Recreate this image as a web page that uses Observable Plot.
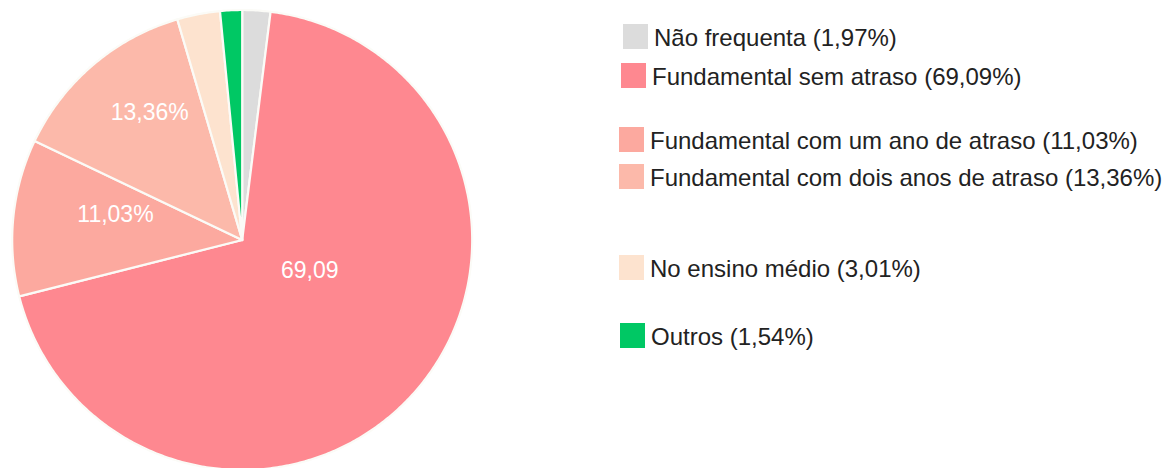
<!DOCTYPE html>
<html>
<head>
<meta charset="utf-8">
<script src="https://cdn.jsdelivr.net/npm/d3@7"></script>
<script src="https://cdn.jsdelivr.net/npm/@observablehq/plot@0.6"></script>
<style>
  html, body { margin: 0; padding: 0; background: #fff; }
  #wrap { position: relative; width: 1173px; height: 468px; overflow: hidden; font-family: "Liberation Sans", Arial, sans-serif; }
  #chart { position: absolute; left: 0; top: 0; }
  .leg { position: absolute; display: flex; align-items: center; font-size: 24px; color: #222; white-space: nowrap; }
  .sw { width: 25px; height: 25px; margin-right: 6px; flex: none; }
</style>
</head>
<body>
<div id="wrap"><div id="chart"></div></div>
<script>
// ---- data ----
const categories = [
  "Não frequenta",
  "Fundamental sem atraso",
  "Fundamental com um ano de atraso",
  "Fundamental com dois anos de atraso",
  "No ensino médio",
  "Outros"
];
const values = [1.97, 69.09, 11.03, 13.36, 3.01, 1.54];
const valueLabels = ["1,97%", "69,09%", "11,03%", "13,36%", "3,01%", "1,54%"];
const sliceLabels = ["", "69,09", "11,03%", "13,36%", "", ""];
const colors = ["#dcdcdc", "#fe8890", "#fca99f", "#fcb9aa", "#fde3cf", "#00c864"];

// ---- geometry (pie built from values) ----
const total = d3.sum(values);
const slices = [];
let acc = 0;
values.forEach((v, i) => {
  const a0 = acc / total * 2 * Math.PI;
  acc += v;
  const a1 = acc / total * 2 * Math.PI;
  slices.push({cat: categories[i], a0, a1, mid: (a0 + a1) / 2, label: sliceLabels[i]});
});
const poly = [];
for (const s of slices) {
  poly.push({cat: s.cat, x: 0, y: 0});
  const n = Math.max(2, Math.ceil((s.a1 - s.a0) / 0.01));
  for (let k = 0; k <= n; k++) {
    const a = s.a0 + (s.a1 - s.a0) * k / n;
    poly.push({cat: s.cat, x: Math.sin(a), y: Math.cos(a)});
  }
  poly.push({cat: s.cat, x: 0, y: 0});
}
const labelPos = (s, r) => ({label: s.label, x: r * Math.sin(s.mid), y: r * Math.cos(s.mid)});
const bigLabel = slices.filter(s => s.cat === categories[1]).map(s => labelPos(s, 0.45));
const smallLabels = [labelPos(slices[2], 0.58), labelPos(slices[3], 0.66)];

const chart = Plot.plot({
  width: 1173,
  height: 468,
  margin: 0,
  x: {domain: [-1, 1], range: [11.7, 471.7], axis: null},
  y: {domain: [-1, 1], range: [469.5, 9.5], axis: null},
  color: {domain: categories, range: colors},
  style: {fontFamily: "'Liberation Sans', Arial, sans-serif", background: "transparent"},
  marks: [
    Plot.line(poly, {x: "x", y: "y", z: "cat", fill: "cat", stroke: "#fbfbf7", strokeWidth: 2.2, strokeLinejoin: "round", curve: "linear"}),
    Plot.text(bigLabel, {x: "x", y: "y", text: "label", fill: "white", fontSize: 23, dx: -10, dy: -38}),
    Plot.text(smallLabels, {x: "x", y: "y", text: "label", fill: "white", fontSize: 23, dx: 6, dy: -12})
  ]
});
document.getElementById("chart").appendChild(chart);

// ---- legend ----
const legendTops = [35, 74, 138, 175, 266, 334];
const legendLefts = [623, 621, 619, 619, 619, 620];
const wrap = document.getElementById("wrap");
categories.forEach((c, i) => {
  const d = document.createElement("div");
  d.className = "leg";
  d.style.left = legendLefts[i] + "px";
  d.style.top = (legendTops[i] - 14) + "px";
  d.style.height = "30px";
  const sw = document.createElement("span");
  sw.className = "sw";
  sw.style.background = colors[i];
  const t = document.createElement("span");
  t.style.marginTop = "4px";
  t.textContent = `${c} (${valueLabels[i]})`;
  d.appendChild(sw);
  d.appendChild(t);
  wrap.appendChild(d);
});
</script>
</body>
</html>
